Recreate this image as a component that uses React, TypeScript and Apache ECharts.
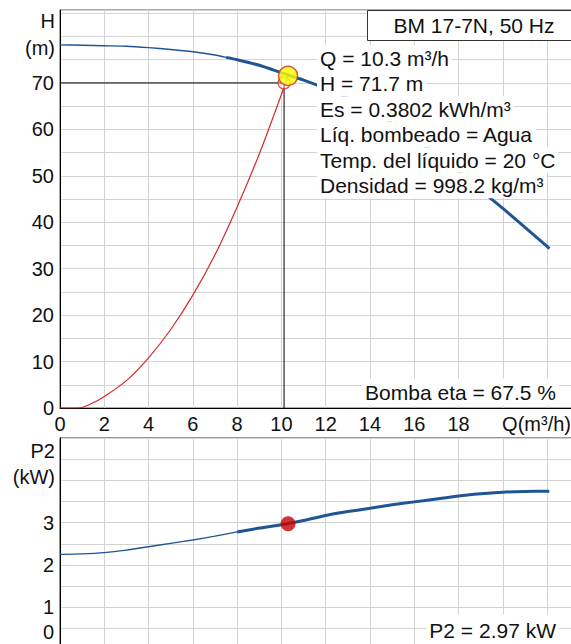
import React, { useEffect, useRef } from "react";
import * as echarts from "echarts";

// Pump curve H(Q)
const qPump = [0, 1, 2, 3, 4, 5, 6, 7, 7.5, 8, 9, 10, 11, 12, 13, 14, 15, 16, 17, 18, 19, 20, 21, 22, 22.1];
const hPump = [78.2, 78.1, 78.0, 77.9, 77.6, 77.2, 76.7, 76.0, 75.5, 75.0, 73.8, 72.2, 70.6, 68.8, 66.7, 64.2, 61.3, 58.1, 54.6, 50.9, 46.9, 43.0, 38.9, 34.8, 34.3];
// System curve
const qSys = [0, 0.8, 1.4, 2, 3, 4, 5, 6, 7, 8, 9, 10, 10.3];
const hSys = [0, 0, 0.9, 2.5, 5.9, 10.8, 16.9, 24.3, 33.0, 43.3, 54.7, 67.5, 71.5];
// Power P2(Q)
const qPow = [0, 1, 2, 3, 4, 5, 6, 7, 8, 9, 10, 11, 12, 13, 14, 15, 16, 17, 18, 19, 20, 21, 22, 22.1];
const pPow = [2.25, 2.26, 2.29, 2.35, 2.43, 2.51, 2.59, 2.68, 2.78, 2.87, 2.95, 3.05, 3.17, 3.26, 3.34, 3.42, 3.49, 3.56, 3.63, 3.68, 3.72, 3.735, 3.74, 3.74];
// Duty point
const dutyQ = 10.3;
const dutyH = 71.5;
const crossQ = 10.12;
const crossH = 70;
const dutyP2 = 2.97;

const xTicks = [0, 2, 4, 6, 8, 10, 12, 14, 16, 18];
const hTicks = [0, 10, 20, 30, 40, 50, 60, 70];
const pTicks = [1, 2, 3];

const title = "BM 17-7N, 50 Hz";
const infoLines = [
  "Q = 10.3 m³/h",
  "H = 71.7 m",
  "Es = 0.3802 kWh/m³",
  "Líq. bombeado = Agua",
  "Temp. del líquido = 20 °C",
  "Densidad = 998.2 kg/m³",
];
const etaText = "Bomba eta = 67.5 %";
const p2Text = "P2 = 2.97 kW";

const FONT = '"Liberation Sans", Arial, sans-serif';
const BLUE = "#1f5595";
const RED = "#d42a2a";
const GRID = "#d3d3d3";

function pairs(xs: number[], ys: number[], lo = -Infinity, hi = Infinity) {
  const out: number[][] = [];
  xs.forEach((x, i) => {
    if (x >= lo && x <= hi) out.push([x, ys[i]]);
  });
  return out;
}

function txt(text: string, x: number, y: number, align: string, extra: any = {}, size = 20) {
  return {
    type: "text",
    z: 100,
    style: {
      text,
      x,
      y,
      align,
      textAlign: align,
      verticalAlign: "middle",
      textVerticalAlign: "middle",
      font: `${size}px ${FONT}`,
      fill: "#111",
      ...extra,
    },
  };
}

export default function App() {
  const ref = useRef<HTMLDivElement>(null);
  useEffect(() => {
    document.body.style.margin = "0";
    const chart = echarts.init(ref.current!, undefined, { renderer: "svg" });
    const xAxisBase = {
      type: "value",
      min: 0,
      max: 24,
      interval: 2,
      axisTick: { show: false },
      splitLine: { show: true, lineStyle: { color: GRID, width: 1 } },
      axisLine: { show: true, lineStyle: { color: "#000", width: 1 } },
    };
    const graphics: any[] = [];
    graphics.push({
      type: "rect",
      z: 100,
      shape: { x: 367.5, y: 10.5, width: 260, height: 30 },
      style: { fill: "#fff", stroke: "#333", lineWidth: 1 },
    });
    graphics.push(txt(title, 474, 25.5, "center", {}, 21));
    infoLines.forEach((l, i) => {
      graphics.push(
        txt(
          l,
          317,
          58 + i * 25.5,
          "left",
          {
            backgroundColor: "#fff",
            padding: [0, 3, 0, 3],
            lineHeight: 25.5,
          },
          21
        )
      );
    });
    graphics.push(txt(etaText, 559, 392, "right", { backgroundColor: "#fff", padding: [3, 3, 3, 3] }, 21));
    graphics.push(txt(p2Text, 559, 630, "right", { backgroundColor: "#fff", padding: [4, 3, 6, 3] }, 21));
    graphics.push(txt("H", 55, 21, "right"));
    graphics.push(txt("(m)", 55, 48, "right"));
    graphics.push(txt("P2", 55, 451, "right"));
    graphics.push(txt("(kW)", 55, 477, "right"));
    graphics.push(txt("0", 54, 632, "right"));
    graphics.push(txt("Q(m³/h)", 571, 424, "right"));

    const lineSeries = (xi: number, data: number[][], color: string, width: number, z: number, smooth: number) => ({
      type: "line",
      xAxisIndex: xi,
      yAxisIndex: xi,
      data,
      smooth,
      symbol: "none",
      lineStyle: { color, width },
      z,
    });

    chart.setOption({
      animation: false,
      backgroundColor: "#fff",
      textStyle: { fontFamily: FONT },
      grid: [
        { left: 60, top: 10, width: 531.4, height: 398, show: true, borderColor: "#555", borderWidth: 1 },
        { left: 60, top: 438, width: 531.4, height: 211.5, show: true, borderColor: "#333", borderWidth: 1 },
      ],
      xAxis: [
        {
          ...xAxisBase,
          gridIndex: 0,
          axisLabel: {
            show: true,
            margin: 6,
            fontSize: 20,
            color: "#111",
            fontFamily: FONT,
            formatter: (v: number) => (xTicks.includes(v) ? String(v) : ""),
          },
        },
        {
          ...xAxisBase,
          gridIndex: 1,
          position: "top",
          axisLabel: { show: false },
        },
      ],
      yAxis: [
        {
          type: "value",
          gridIndex: 0,
          min: 0,
          max: 85.7,
          interval: 5,
          axisTick: { show: false },
          axisLine: { show: true, lineStyle: { color: "#000", width: 1 } },
          splitLine: { show: true, lineStyle: { color: GRID, width: 1 } },
          axisLabel: {
            margin: 6,
            fontSize: 20,
            color: "#111",
            fontFamily: FONT,
            formatter: (v: number) => (hTicks.includes(v) ? String(v) : ""),
          },
        },
        {
          type: "value",
          gridIndex: 1,
          min: 0,
          max: 5,
          interval: 0.5,
          axisTick: { show: false },
          axisLine: { show: true, lineStyle: { color: "#000", width: 1 } },
          splitLine: { show: true, lineStyle: { color: GRID, width: 1 } },
          axisLabel: {
            margin: 6,
            fontSize: 20,
            color: "#111",
            fontFamily: FONT,
            formatter: (v: number) => (pTicks.includes(v) ? String(v) : ""),
          },
        },
      ],
      series: [
        {
          type: "line",
          xAxisIndex: 0,
          yAxisIndex: 0,
          data: [[0, crossH], [crossQ, crossH], [crossQ, 0]],
          symbol: "none",
          lineStyle: { color: "#000", width: 1 },
          z: 2,
        },
        lineSeries(0, pairs(qSys, hSys), RED, 1.2, 3, 0.35),
        lineSeries(0, pairs(qPump, hPump, 0, 7.5), BLUE, 1.4, 4, 0.2),
        lineSeries(0, pairs(qPump, hPump, 7.5, 30), BLUE, 3, 4, 0.2),
        {
          type: "scatter",
          xAxisIndex: 0,
          yAxisIndex: 0,
          data: [[crossQ, crossH]],
          symbol: "circle",
          symbolSize: 12,
          itemStyle: { color: "rgba(255,255,255,0.5)", borderColor: RED, borderWidth: 1.2 },
          z: 5,
        },
        {
          type: "scatter",
          xAxisIndex: 0,
          yAxisIndex: 0,
          data: [[dutyQ, dutyH]],
          symbol: "circle",
          symbolSize: 19,
          itemStyle: { color: "#ffff00", borderColor: RED, borderWidth: 1.5 },
          z: 6,
        },
        lineSeries(1, pairs(qPow, pPow, 0, 8), BLUE, 1.4, 4, 0.2),
        lineSeries(1, pairs(qPow, pPow, 8, 30), BLUE, 3, 4, 0.2),
        {
          type: "scatter",
          xAxisIndex: 1,
          yAxisIndex: 1,
          data: [[dutyQ, dutyP2]],
          symbol: "circle",
          symbolSize: 15,
          itemStyle: { color: "#c80000" },
          z: 6,
        },
      ],
      graphic: graphics,
    });
    return () => chart.dispose();
  }, []);
  return (
    <div style={{ width: 571, height: 644, overflow: "hidden", position: "relative" }}>
      <div ref={ref} style={{ width: 600, height: 660 }} />
    </div>
  );
}
